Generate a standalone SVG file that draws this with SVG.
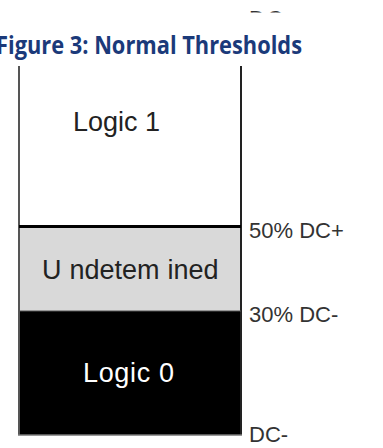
<svg xmlns="http://www.w3.org/2000/svg" width="383" height="448" viewBox="0 0 383 448">
<style>
.lbl{font-family:"Liberation Sans",Arial,sans-serif;font-size:22px;fill:#333333}
.box{font-family:"Liberation Sans",Arial,sans-serif;font-size:27px}
.edge{stroke:#222222;stroke-width:2;fill:none}
</style>
<defs>
<clipPath id="topclip"><rect x="240" y="9.5" width="80" height="3"/></clipPath>
</defs>
<rect width="383" height="448" fill="#ffffff"/>
<g id="title">
<text x="-4" y="54" font-family="'Open Sans','Liberation Sans',sans-serif" font-weight="bold" font-size="25" fill="#1B3A7A" textLength="306" lengthAdjust="spacingAndGlyphs">Figure 3: Normal Thresholds</text>
</g>
<g id="top-partial" clip-path="url(#topclip)">
<text class="lbl" x="249" y="25.5" letter-spacing="2">DC+</text>
</g>
<g id="logic1">
<text class="box" x="73" y="131" fill="#222222">Logic 1</text>
</g>
<g id="undetermined">
<rect x="19" y="228" width="222" height="83" fill="#D9D9D9"/>
<text class="box" x="42" y="279" fill="#222222">U<tspan dx="8">ndetem</tspan><tspan dx="8">ined</tspan></text>
</g>
<g id="logic0">
<rect x="19" y="311" width="222" height="124" fill="#000000"/>
<text class="box" x="83" y="382" fill="#ffffff" textLength="91">Logic 0</text>
</g>
<g id="connectors">
<line x1="19" y1="66" x2="19" y2="435" stroke="#555" stroke-width="2"/>
<line class="edge" x1="241" y1="66" x2="241" y2="435"/>
<line x1="19" y1="226.5" x2="241" y2="226.5" stroke="#000" stroke-width="3"/>
<line x1="19" y1="311" x2="241" y2="311" stroke="#555" stroke-width="1"/>
<line x1="18" y1="435" x2="242" y2="435" stroke="#777" stroke-width="1.5"/>
</g>
<g id="labels">
<text class="lbl" x="249" y="238">50% DC+</text>
<text class="lbl" x="249" y="322">30% DC-</text>
<text class="lbl" x="249" y="442">DC-</text>
</g>
</svg>
